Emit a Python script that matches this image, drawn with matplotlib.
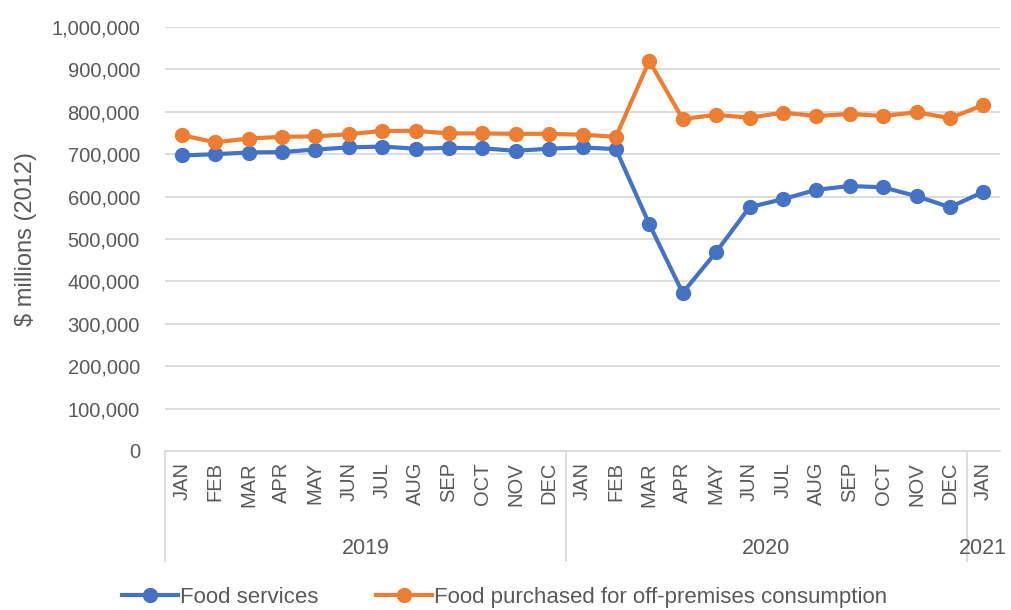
import matplotlib
matplotlib.use("Agg")
import matplotlib.pyplot as plt
from matplotlib.ticker import FuncFormatter
from matplotlib.lines import Line2D

plt.rcParams['font.family'] = ['Liberation Sans', 'DejaVu Sans']

months = ["JAN", "FEB", "MAR", "APR", "MAY", "JUN", "JUL", "AUG", "SEP", "OCT", "NOV", "DEC",
          "JAN", "FEB", "MAR", "APR", "MAY", "JUN", "JUL", "AUG", "SEP", "OCT", "NOV", "DEC",
          "JAN"]
years = ["2019", "2020", "2021"]
year_counts = [12, 12, 1]

food_services = [697000, 700000, 704000, 705000, 711000, 716000, 718000, 713000, 715000, 714000,
                 708000, 713000, 716000, 712000, 535000, 373000, 469000, 575000, 594000, 616000,
                 625000, 622000, 601000, 575000, 611000]
food_off_premises = [745000, 728000, 737000, 741000, 742000, 747000, 755000, 755000, 749000, 749000,
                     748000, 748000, 746000, 741000, 920000, 783000, 793000, 786000, 798000, 790000,
                     795000, 790000, 799000, 785000, 816000]

blue = "#4472C4"
orange = "#ED7D31"
grid = "#D9D9D9"
txt = "#595959"

fig = plt.figure(figsize=(10.11, 6.10), dpi=100)
ax = fig.add_axes([165 / 1011, 1 - 451 / 610, (1000 - 165) / 1011, (451 - 27) / 610])

x = list(range(len(months)))
ax.plot(x, food_services, color=blue, lw=3, marker="o", ms=10, label="Food services")
ax.plot(x, food_off_premises, color=orange, lw=3, marker="o", ms=10,
        label="Food purchased for off-premises consumption")

ax.set_ylim(0, 1000000)
ax.set_yticks(range(0, 1000001, 100000))
ax.yaxis.set_major_formatter(FuncFormatter(lambda v, p: f"{int(v):,}"))
ax.set_xlim(-0.5, len(months) - 0.5)
ax.set_xticks(x)
ax.set_xticklabels(months, rotation=90, va="top")
ax.tick_params(axis="both", length=0, labelsize=14.5, colors=txt)
ax.tick_params(axis="x", pad=8)
ax.tick_params(axis="y", pad=18)
ax.grid(axis="y", color=grid, lw=1.3)
ax.set_axisbelow(True)
for s in ["top", "right", "left"]:
    ax.spines[s].set_visible(False)
ax.spines["bottom"].set_color(grid)
ax.spines["bottom"].set_linewidth(1.3)

ax.set_ylabel("$ millions (2012)", fontsize=17, color=txt, labelpad=10)

# second level of the category axis: year groups
tr = ax.get_xaxis_transform()
bounds = [-0.5]
for n in year_counts:
    bounds.append(bounds[-1] + n)
for b in bounds[:-1]:
    ax.add_line(Line2D([b, b], [0, -0.26], transform=tr, color=grid, lw=1.3, clip_on=False))
for i, yr in enumerate(years):
    mid = (bounds[i] + bounds[i + 1]) / 2
    ax.text(mid, -0.23, yr, transform=tr, ha="center", va="center", fontsize=15.5, color=txt)

ax.legend(loc="center", bbox_to_anchor=(0.407, -0.345), ncol=2, frameon=False,
          fontsize=16, labelcolor=txt, handlelength=2.5, columnspacing=2.6, handletextpad=0.1)

fig.savefig("out.png", dpi=100)
